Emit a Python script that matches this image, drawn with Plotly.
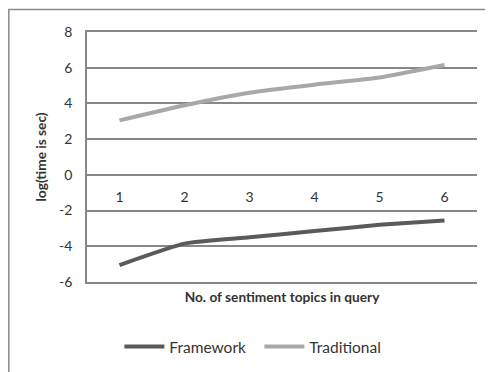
import plotly.graph_objects as go

categories = [1, 2, 3, 4, 5, 6]
framework = [-5.05, -3.85, -3.5, -3.15, -2.8, -2.55]
traditional = [3.05, 3.9, 4.6, 5.05, 5.45, 6.15]
y_ticks = [-6, -4, -2, 0, 2, 4, 6, 8]
y_ticktext = ["-6", "-4", "-2", "0", "2", "4", "6", "8"]

FONT = "Lato"
TXT = "#333333"
GRID = "#878787"

fig = go.Figure()
fig.add_trace(go.Scatter(x=categories, y=framework, mode="lines", name="Framework",
                         line=dict(color="#5a5a5a", width=4, shape="spline", smoothing=0.5)))
fig.add_trace(go.Scatter(x=categories, y=traditional, mode="lines", name="Traditional",
                         line=dict(color="#a8a8a8", width=4, shape="spline", smoothing=0.5)))
# invisible trace to drive the crossing x-axis (labels at y=0)
fig.add_trace(go.Scatter(x=categories, y=[0]*len(categories), xaxis="x2", mode="lines",
                         line=dict(width=0), showlegend=False, hoverinfo="skip"))

fig.update_layout(
    width=493, height=372,
    margin=dict(l=79, r=24, t=24, b=98, autoexpand=False),
    paper_bgcolor="white", plot_bgcolor="white",
    font=dict(family=FONT, size=13, color=TXT),
    showlegend=True,
    legend=dict(orientation="h", x=0.083, xanchor="left", y=-0.26, yanchor="middle",
                font=dict(family=FONT, size=15.5, color=TXT), itemwidth=40,
                entrywidth=85, traceorder="normal"),
    xaxis=dict(range=[0.5, 6.5], showticklabels=False, showgrid=False, zeroline=False,
               automargin=False,
               showline=True, linecolor=GRID, linewidth=1.5, mirror=True, ticks="",
               title=dict(text="<b>No. of sentiment topics in query</b>", standoff=10,
                          font=dict(family=FONT, size=13.7, color=TXT))),
    xaxis2=dict(range=[0.5, 6.5], overlaying="x", anchor="free", position=6/14,
                automargin=False,
                tickmode="array", tickvals=categories, ticktext=[str(c) for c in categories],
                showgrid=False, zeroline=False, showline=False, ticks="",
                ticklabelstandoff=12, tickfont=dict(family=FONT, size=14, color=TXT)),
    yaxis=dict(range=[-6, 8], tickmode="array", tickvals=y_ticks, ticktext=y_ticktext,
               automargin=False,
               showgrid=True, gridcolor=GRID, gridwidth=1.5, zeroline=False,
               showline=True, linecolor=GRID, linewidth=1.5, ticks="",
               ticklabelstandoff=10, tickfont=dict(family=FONT, size=14, color=TXT),
               title=dict(text="<b>log(time is sec)</b>", standoff=9,
                          font=dict(family=FONT, size=13.7, color=TXT))),
    shapes=[dict(type="rect", xref="paper", yref="paper", x0=-0.2005, x1=1.2, y0=-0.6, y1=1.09,
                 line=dict(color="#8a8a8a", width=1.5), fillcolor="rgba(0,0,0,0)", layer="below")],
)

fig.write_html("out.html")
